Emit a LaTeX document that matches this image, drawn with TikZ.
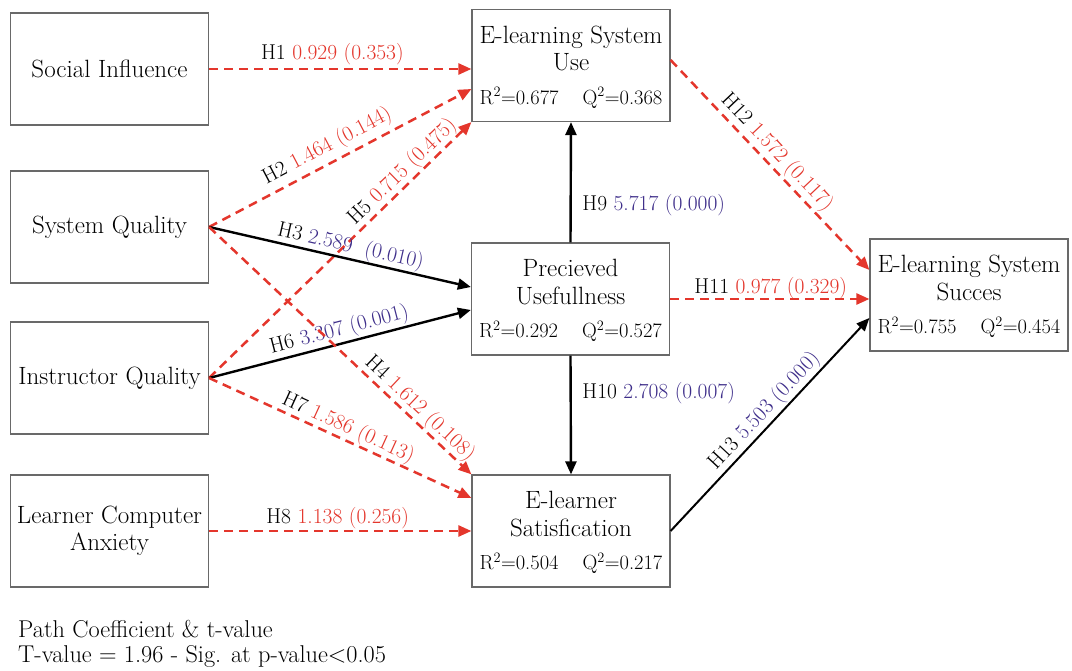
\documentclass[tikz,border=0pt]{standalone}
\usetikzlibrary{arrows.meta,calc}
\definecolor{cred}{RGB}{228,54,44}
\definecolor{cblue}{RGB}{62,46,138}
\definecolor{cbox}{RGB}{105,105,105}
\begin{document}
\begin{tikzpicture}[x=1pt,y=-1pt,
  box/.style={draw=cbox,line width=1.2pt,fill=white,minimum width=198pt,minimum height=112pt,inner sep=0pt,align=center,font=\fontsize{25}{27.5}\selectfont},
  ttl/.style={anchor=base,inner sep=0pt,font=\fontsize{25}{27.5}\selectfont},
  stat/.style={inner sep=0pt,font=\fontsize{20.5}{24}\selectfont},
  ns/.style={-{Triangle[length=13pt,width=11pt]},line width=2.5pt,cred,dash pattern=on 9pt off 6pt},
  sg/.style={-{Triangle[length=13pt,width=11pt]},line width=2.4pt,black},
  lbl/.style={font=\fontsize{21.5}{24}\selectfont,inner sep=1.5pt,text=black},
  foot/.style={inner sep=0pt,font=\fontsize{24.3}{27}\selectfont},
  ]
\fill[white] (0,0) rectangle (1072,671);
\useasboundingbox (0,0) rectangle (1072,671);

% left boxes
\node[box] (si) at (109.5,69) {Social Influence};
\node[box] (sq) at (109.5,227) {System Quality};
\node[box] (iq) at (109.5,378) {Instructor Quality};
\node[box] (lca) at (109.5,531) {Learner Computer\\Anxiety};

% right boxes
\node[box] (use) at (571,65.5) {};
\node[ttl] (useA) at ($(use.north)+(0,34.5)$) {E-learning System};
\node[ttl] (useB) at ($(use.north)+(0,62)$) {Use};
\node[stat,anchor=base west] (useR) at ($(use.north west)+(8,95.5)$) {R\textsuperscript{2}=0.677};
\node[stat,anchor=base east] (useQ) at ($(use.north east)+(-8,95.5)$) {Q\textsuperscript{2}=0.368};

\node[box] (pu) at (570.5,299) {};
\node[ttl] (puA) at ($(pu.north)+(0,34.5)$) {Precieved};
\node[ttl] (puB) at ($(pu.north)+(0,62)$) {Usefullness};
\node[stat,anchor=base west] (puR) at ($(pu.north west)+(8,95.5)$) {R\textsuperscript{2}=0.292};
\node[stat,anchor=base east] (puQ) at ($(pu.north east)+(-8,95.5)$) {Q\textsuperscript{2}=0.527};

\node[box] (es) at (571,531) {};
\node[ttl] (esA) at ($(es.north)+(0,34.5)$) {E-learner};
\node[ttl] (esB) at ($(es.north)+(0,62)$) {Satisfication};
\node[stat,anchor=base west] (esR) at ($(es.north west)+(8,95.5)$) {R\textsuperscript{2}=0.504};
\node[stat,anchor=base east] (esQ) at ($(es.north east)+(-8,95.5)$) {Q\textsuperscript{2}=0.217};

\node[box] (ss) at (969,295) {};
\node[ttl] (ssA) at ($(ss.north)+(0,34.5)$) {E-learning System};
\node[ttl] (ssB) at ($(ss.north)+(0,62)$) {Succes};
\node[stat,anchor=base west] (ssR) at ($(ss.north west)+(8,95.5)$) {R\textsuperscript{2}=0.755};
\node[stat,anchor=base east] (ssQ) at ($(ss.north east)+(-8,95.5)$) {Q\textsuperscript{2}=0.454};

% connectors
\draw[ns] (si.east) -- (si.east -| use.west)
  node[lbl,pos=0.47,above=1pt] {H1 \textcolor{cred}{0.929 (0.353)}};
\draw[ns] (sq.east) -- ([yshift=-23.5pt]use.west)
  node[lbl,sloped,pos=0.48,above=3pt] {H2 \textcolor{cred}{1.464 (0.144)}};
\draw[ns] (iq.east) -- (use.south west)
  node[lbl,sloped,pos=0.77,above=-1pt] {H5 \textcolor{cred}{0.715 (0.475)}};
\draw[sg] (sq.east) -- ([yshift=12pt]pu.west)
  node[lbl,sloped,pos=0.53,above=-1pt] {H3 \textcolor{cblue}{2.589\ \ (0.010)}};
\draw[sg] (iq.east) -- ([yshift=-11pt]pu.west)
  node[lbl,sloped,pos=0.51,above=0pt] {H6 \textcolor{cblue}{3.307 (0.001)}};
\draw[ns] (sq.east) -- (es.north west)
  node[lbl,sloped,pos=0.77,above=-1pt] {H4 \textcolor{cred}{1.612 (0.108)}};
\draw[ns] (iq.east) -- ([yshift=33pt]es.west)
  node[lbl,sloped,pos=0.51,above=-1pt] {H7 \textcolor{cred}{1.586 (0.113)}};
\draw[ns] (lca.east) -- (lca.east -| es.west)
  node[lbl,pos=0.49,above=-1pt] {H8 \textcolor{cred}{1.138 (0.256)}};
\draw[sg] (pu.north) -- (use.south)
  node[lbl,pos=0.31,right=9pt] {H9 \textcolor{cblue}{5.717 (0.000)}};
\draw[sg] (pu.south) -- (es.north)
  node[lbl,pos=0.32,right=9pt] {H10 \textcolor{cblue}{2.708 (0.007)}};
\draw[ns] (pu.east) -- (pu.east -| ss.west)
  node[lbl,pos=0.505,above=-3pt] {H11 \textcolor{cred}{0.977 (0.329)}};
\draw[ns] ([yshift=5.5pt]use.east) -- ([yshift=25pt]ss.west)
  node[lbl,sloped,pos=0.485,above=0pt] {H12 \textcolor{cred}{1.572 (0.117)}};
\draw[sg,line width=2pt] (es.east) -- ([yshift=-23pt]ss.west)
  node[lbl,sloped,pos=0.52,above=0pt] {H13 \textcolor{cblue}{5.503 (0.000)}};

% footnote
\node[foot,anchor=base west] (fn1) at (18,637) {Path Coefficient \& t-value};
\node[foot,anchor=base west] (fn2) at (18,662) {T-value = 1.96 - Sig. at p-value<0.05};
\end{tikzpicture}
\end{document}
